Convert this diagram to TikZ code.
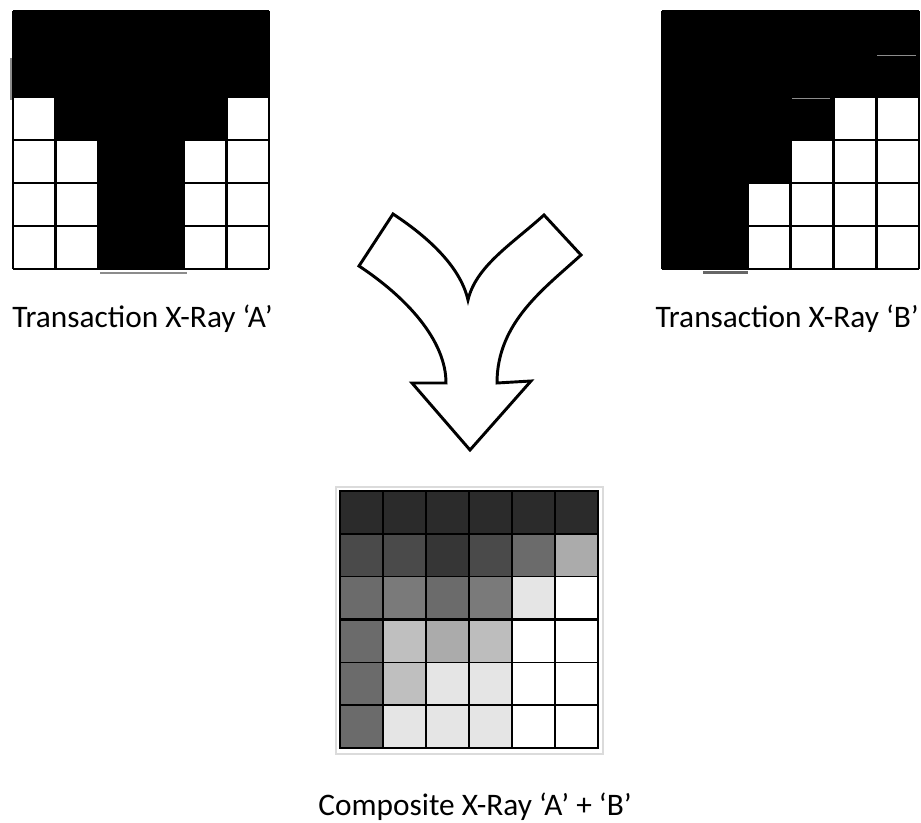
\documentclass[tikz,border=0pt]{standalone}
\usepackage{fontspec}
\setmainfont{Carlito}
\begin{document}
\begin{tikzpicture}[x=0.75pt,y=-0.75pt,
  gl/.style={line width=2pt,black},
  cl/.style={line width=1.1pt,black},
  art/.style={line width=1.2pt,black!45},
  lbl/.style={font=\fontsize{23.5}{28}\selectfont,inner sep=0pt}]
\useasboundingbox (0,0) rectangle (921,823);
% ---------- grid A ----------
\fill[black] (13,11) rectangle (269,269);
\foreach \c/\r in {0/2,5/2,0/3,1/3,4/3,5/3,0/4,1/4,4/4,5/4,0/5,1/5,4/5,5/5}
  \fill[white] ({13+\c*42.667},{11+\r*43}) rectangle ++(42.667,43);
\foreach \i in {0,...,6} {
  \draw[gl] ({13+\i*42.667},11) -- ({13+\i*42.667},269);
  \draw[gl] (13,{11+\i*43}) -- (269,{11+\i*43});
}
\draw[art] (11,58) -- (11,100);
\draw[art] (100,273) -- (187,273);
% ---------- grid B ----------
\fill[black] (662,11) rectangle (919,269);
\foreach \c/\r in {4/2,5/2,3/3,4/3,5/3,2/4,3/4,4/4,5/4,2/5,3/5,4/5,5/5}
  \fill[white] ({662+\c*42.833},{11+\r*43}) rectangle ++(42.833,43);
\foreach \i in {0,...,6} {
  \draw[gl] ({662+\i*42.833},11) -- ({662+\i*42.833},269);
  \draw[gl] (662,{11+\i*43}) -- (919,{11+\i*43});
}
\draw[art] (877,55.5) -- (916,55.5);
\draw[art] (792,98.5) -- (830,98.5);
\draw[line width=1.6pt,black!60] (703,272.5) -- (748,272.5);
% ---------- merge arrow ----------
\draw[line width=2.2pt,fill=white,line join=miter]
  (393,214) .. controls (425,235) and (460,265) .. (468,300)
  .. controls (476,266) and (512,244) .. (544,215)
  -- (581,255)
  .. controls (545,288) and (497,322) .. (497,383)
  -- (531,381) -- (470,450) -- (412,383) -- (446,383)
  .. controls (446,340) and (406,297) .. (359,266) -- cycle;
% ---------- composite grid ----------
\draw[black!14,line width=0.8pt] (336,487) rectangle (603,754);
\foreach \r/\vals in {0/{83,83,83,83,83,83},1/{71,71,79,71,58,33},2/{58,52,58,52,10,0},
                      3/{58,25,33,26,0,0},4/{58,25,10,10,0,0},5/{58,10,10,10,0,0}} {
  \foreach \k [count=\c from 0] in \vals
    \fill[black!\k] ({340+\c*43},{491+\r*42.833}) rectangle ++(43,42.833);
}
\foreach \i in {1,...,5} {
  \draw[cl] ({340+\i*43},491) -- ({340+\i*43},748);
  \draw[cl] (340,{491+\i*42.833}) -- (598,{491+\i*42.833});
}
\draw[line width=1.6pt] (469,491) -- (469,748);
\draw[line width=1.6pt] (340,{491+3*42.833}) -- (598,{491+3*42.833});
\draw[line width=1.8pt] (340,491) rectangle (598,748);
% ---------- labels ----------
\node[lbl,anchor=base west] (la) at (12,328) {Transaction X-Ray ‘A’};
\node[lbl,anchor=base east] (lb) at (919,328) {Transaction X-Ray ‘B’};
\node[lbl,anchor=base] (lc) at (475,815) {Composite X-Ray ‘A’ + ‘B’};
\end{tikzpicture}
\end{document}
